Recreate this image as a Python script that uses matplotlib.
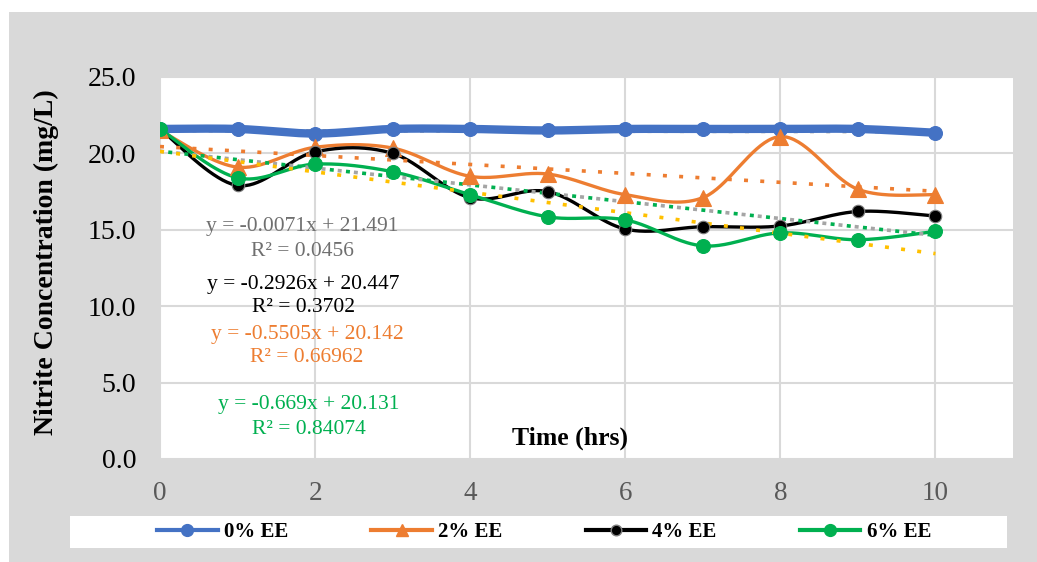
import numpy as np
import matplotlib
matplotlib.use('Agg')
import matplotlib.pyplot as plt
from matplotlib.patches import Rectangle

# ---------------- data ----------------
hours = [0, 1, 2, 3, 4, 5, 6, 7, 8, 9, 10]
ee0 = [21.6, 21.6, 21.3, 21.6, 21.6, 21.5, 21.6, 21.6, 21.6, 21.6, 21.35]
ee2 = [21.5, 19.1, 20.4, 20.35, 18.5, 18.65, 17.3, 17.1, 21.1, 17.65, 17.3]
ee4 = [21.6, 17.9, 20.1, 20.0, 17.1, 17.5, 15.05, 15.2, 15.25, 16.2, 15.9]
ee6 = [21.6, 18.4, 19.3, 18.8, 17.3, 15.85, 15.65, 13.95, 14.8, 14.35, 14.9]
series_names = ['0% EE', '2% EE', '4% EE', '6% EE']

# trendlines as drawn (slope, intercept)
trend_slopes = [-0.0071, -0.2926, -0.5505, -0.5505, -0.669]
trend_intercepts = [21.491, 20.447, 20.142, 20.142, 20.131]

equations = [
    ('y = -0.0071x + 21.491', 'R² = 0.0456'),
    ('y = -0.2926x + 20.447', 'R² = 0.3702'),
    ('y = -0.5505x + 20.142', 'R² = 0.66962'),
    ('y = -0.669x + 20.131', 'R² = 0.84074'),
]

y_ticks = [0, 5, 10, 15, 20, 25]
x_ticks = [0, 2, 4, 6, 8, 10]

# ---------------- style ----------------
BLUE = '#4472C4'
ORANGE = '#ED7D31'
GREEN = '#00B050'
GRAY = '#A5A5A5'
YELLOW = '#FFC000'
SERIF = 'Liberation Serif'

W, H = 1037, 562
fig = plt.figure(figsize=(W / 100, H / 100), dpi=100)
fig.patch.set_facecolor('white')
fig.patches.append(Rectangle((9 / W, 0), 1 - 9 / W, 1 - 12 / H,
                             transform=fig.transFigure, facecolor='#D9D9D9',
                             edgecolor='none', zorder=-10))
# legend box
fig.patches.append(Rectangle((70 / W, 1 - 548 / H), (1007 - 70) / W, 32 / H,
                             transform=fig.transFigure, facecolor='white',
                             edgecolor='none', zorder=-5))

ax = fig.add_axes([160 / W, 1 - 459 / H, (1013 - 160) / W, (459 - 77) / H])
ax.set_facecolor('white')
ax.set_xlim(0, 11)
ax.set_ylim(0, 25)
ax.set_xticks(x_ticks)
ax.set_yticks(y_ticks)
ax.set_xticklabels([str(v) for v in x_ticks], fontsize=19.5, family=SERIF, color='#595959')
ax.set_yticklabels([f'{v:.1f}' for v in y_ticks], fontsize=20, family=SERIF, color='black')
ax.tick_params(axis='both', length=0)
ax.tick_params(axis='x', pad=16)
ax.tick_params(axis='y', pad=17)
for s in ax.spines.values():
    s.set_visible(False)
ax.grid(True, color='#D9D9D9', linewidth=1.5, zorder=0)
ax.set_axisbelow(True)


def smooth(x, y, n=40):
    P = np.column_stack([x, y]).astype(float)
    out = []
    m = len(P)
    t = np.linspace(0, 1, n)[:, None]
    for i in range(m - 1):
        p0 = P[i - 1] if i > 0 else P[i]
        p3 = P[i + 2] if i + 2 < m else P[i + 1]
        c1 = P[i] + (P[i + 1] - p0) / 6.0
        c2 = P[i + 1] - (p3 - P[i]) / 6.0
        seg = ((1 - t) ** 3) * P[i] + 3 * ((1 - t) ** 2) * t * c1 + 3 * (1 - t) * t ** 2 * c2 + t ** 3 * P[i + 1]
        out.append(seg if i == 0 else seg[1:])
    out = np.vstack(out)
    return out[:, 0], out[:, 1]


# trendlines
tx = np.array([0, 10])
trend_colors = [GRAY, ORANGE, GRAY, GREEN, YELLOW]
trend_offsets = [0, 0, 0, 2.2, 0]
for k, (sl, ic, c, off) in enumerate(zip(trend_slopes, trend_intercepts, trend_colors, trend_offsets)):
    ax.plot(tx, ic + sl * tx, color=c, linewidth=2.6,
            linestyle=(off, (1.1, 3.4)), zorder=3 if k > 0 else 1.5)

# data series
data = [ee0, ee2, ee4, ee6]
colors = [BLUE, ORANGE, 'black', GREEN]
markers = ['o', '^', 'o', 'o']
msizes = [10, 11, 9, 10]
lws = [6.0, 2.4, 2.4, 2.4]
handles = []
for vals, c, mk, ms, lw, name in zip(data, colors, markers, msizes, lws, series_names):
    sx, sy = smooth(hours, vals)
    ax.plot(sx, sy, color=c, linewidth=lw, zorder=2, solid_capstyle='round')
    mec = '#7F7F7F' if c == 'black' else c
    ax.plot(hours, vals, linestyle='none', marker=mk, markersize=ms,
            markerfacecolor=c, markeredgecolor=mec, markeredgewidth=0.8, zorder=4)
    h, = ax.plot([], [], color=c, linewidth=3, marker=mk, markersize=ms * 0.85,
                 markerfacecolor=c, markeredgecolor=mec, label=name)
    handles.append(h)

# equations
eq_colors = ['#6F6F6F', 'black', ORANGE, GREEN]
eq_pos = [(302, 227, 251), (303, 285, 308), (307, 335, 358), (309, 404, 429)]
for (l1, l2), c, (cx, y1, y2) in zip(equations, eq_colors, eq_pos):
    fig.text(cx / W, 1 - y1 / H, l1, ha='center', va='center', fontsize=15.5, family=SERIF, color=c)
    fig.text(cx / W, 1 - y2 / H, l2, ha='center', va='center', fontsize=15.5, family=SERIF, color=c)

# axis titles
fig.text(570 / W, 1 - 438 / H, 'Time (hrs)', ha='center', va='center', fontsize=18.5,
         fontweight='bold', family=SERIF)
fig.text(46 / W, 1 - 262 / H, 'Nitrite Concentration (mg/L)', ha='center', va='center',
         rotation=90, fontsize=20, fontweight='bold', family=SERIF)

leg = fig.legend(handles=handles, loc='center', ncol=4, frameon=False,
                 bbox_to_anchor=(544 / W, 1 - 532 / H),
                 prop={'family': SERIF, 'weight': 'bold', 'size': 15},
                 handlelength=2.9, handletextpad=0.3, columnspacing=4.0)

fig.savefig('out.png', dpi=100)
